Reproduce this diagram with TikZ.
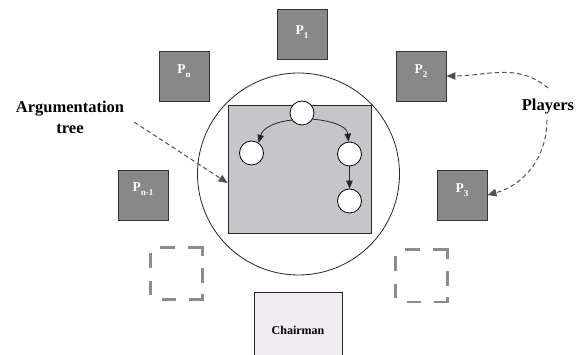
\documentclass[tikz,border=0pt]{standalone}
\usepackage{fontspec}
\setmainfont{Liberation Serif}
\usetikzlibrary{arrows.meta}
\definecolor{pfill}{RGB}{136,136,136}
\definecolor{tfill}{RGB}{198,198,202}
\definecolor{cfill}{RGB}{240,236,242}
\definecolor{dgray}{RGB}{80,80,80}
\definecolor{sgray}{RGB}{140,140,140}
\newcommand\plab[2]{\textbf{#1\raisebox{-4pt}{\fontsize{9}{10}\selectfont #2}}}
\begin{document}
\begin{tikzpicture}[x=1pt,y=1pt,
  player/.style={draw=black!80, line width=0.9pt, fill=pfill, minimum width=50pt, minimum height=50pt, inner sep=0pt},
  ptext/.style={text=white, font=\fontsize{13.5}{15}\selectfont, anchor=base, inner sep=0pt},
  seat/.style={minimum size=52pt, inner sep=0pt},
  seatline/.style={draw=sgray, line width=2.6pt, line cap=butt,
    dash pattern=on 14pt off 13pt on 19pt off 11pt on 15pt off 12pt on 24pt off 13pt on 15pt off 15pt on 15pt off 13pt on 14pt off 15pt,
    dash phase=196pt},
  tnode/.style={circle, draw=black, line width=0.8pt, fill=white, minimum size=24pt, inner sep=0pt},
  treearrow/.style={draw=black!85, line width=0.8pt, -{Triangle[length=8pt,width=6.5pt]}},
  dasharrow/.style={draw=dgray, line width=1pt, dash pattern=on 4.5pt off 3pt, -{Triangle[length=9pt,width=7.5pt]}},
  biglabel/.style={font=\fontsize{16.5}{21}\selectfont\bfseries, align=center}
]
\useasboundingbox (0,0) rectangle (576,355);
% table and argumentation tree
\node[circle, draw=black!85, line width=0.8pt, minimum size=202pt, inner sep=0pt] (table) at (298.5,181) {};
\node[draw=black!85, line width=0.8pt, fill=tfill, minimum width=143pt, minimum height=128pt, inner sep=0pt] (tree) at (299.5,186) {};
\node[tnode] (t) at (302,242) {};
\node[tnode] (l) at (251.5,202) {};
\node[tnode] (r) at (349.5,201) {};
\node[tnode] (b) at (349.5,154) {};
\draw[treearrow] (t.215) to[out=185,in=75] (l.55);
\draw[treearrow] (t.330) to[out=-5,in=95] (r.95);
\draw[treearrow] (r.south) -- (b.north);
% players
\node[player, label={[ptext,yshift=2pt]center:\plab{P}{1}}] (p1) at (302,321) {};
\node[player, label={[ptext,yshift=5pt]center:\plab{P}{n}}] (pn) at (184,279) {};
\node[player, label={[ptext,yshift=5pt]center:\plab{P}{2}}] (p2) at (421,279) {};
\node[player, label={[ptext,yshift=6pt]center:\plab{P}{n-1}}] (pn1) at (143,160) {};
\node[player, label={[ptext,yshift=4.5pt]center:\plab{P}{3}}] (p3) at (462,160) {};
% empty seats
\node[seat] (s1) at (176.5,81.5) {};
\node[seat] (s2) at (421.5,79) {};
\draw[seatline] (s1.south west) -- (s1.south east) -- (s1.north east) -- (s1.north west) -- cycle;
\draw[seatline] (s2.south west) -- (s2.south east) -- (s2.north east) -- (s2.north west) -- cycle;
% chairman
\node[draw=black!85, line width=0.9pt, fill=cfill, minimum width=88pt, minimum height=76pt, inner sep=0pt, font=\fontsize{12}{14}\selectfont\bfseries] (chair) at (298,25) {Chairman};
% labels
\node[biglabel] (argl) at (70,238) {Argumentation\\tree};
\node[biglabel] (players) at (548,248) {Players};
\coordinate (a1) at (134,233);
\coordinate (pl1) at (548,267);
\coordinate (pl2) at (547,235);
\draw[dasharrow] (a1) -- ([yshift=-14pt]tree.west);
\draw[dasharrow] (pl1) to[out=140,in=0] (p2.east);
\draw[dasharrow] (pl2) to[out=-90,in=15] (p3.east);
\end{tikzpicture}
\end{document}
